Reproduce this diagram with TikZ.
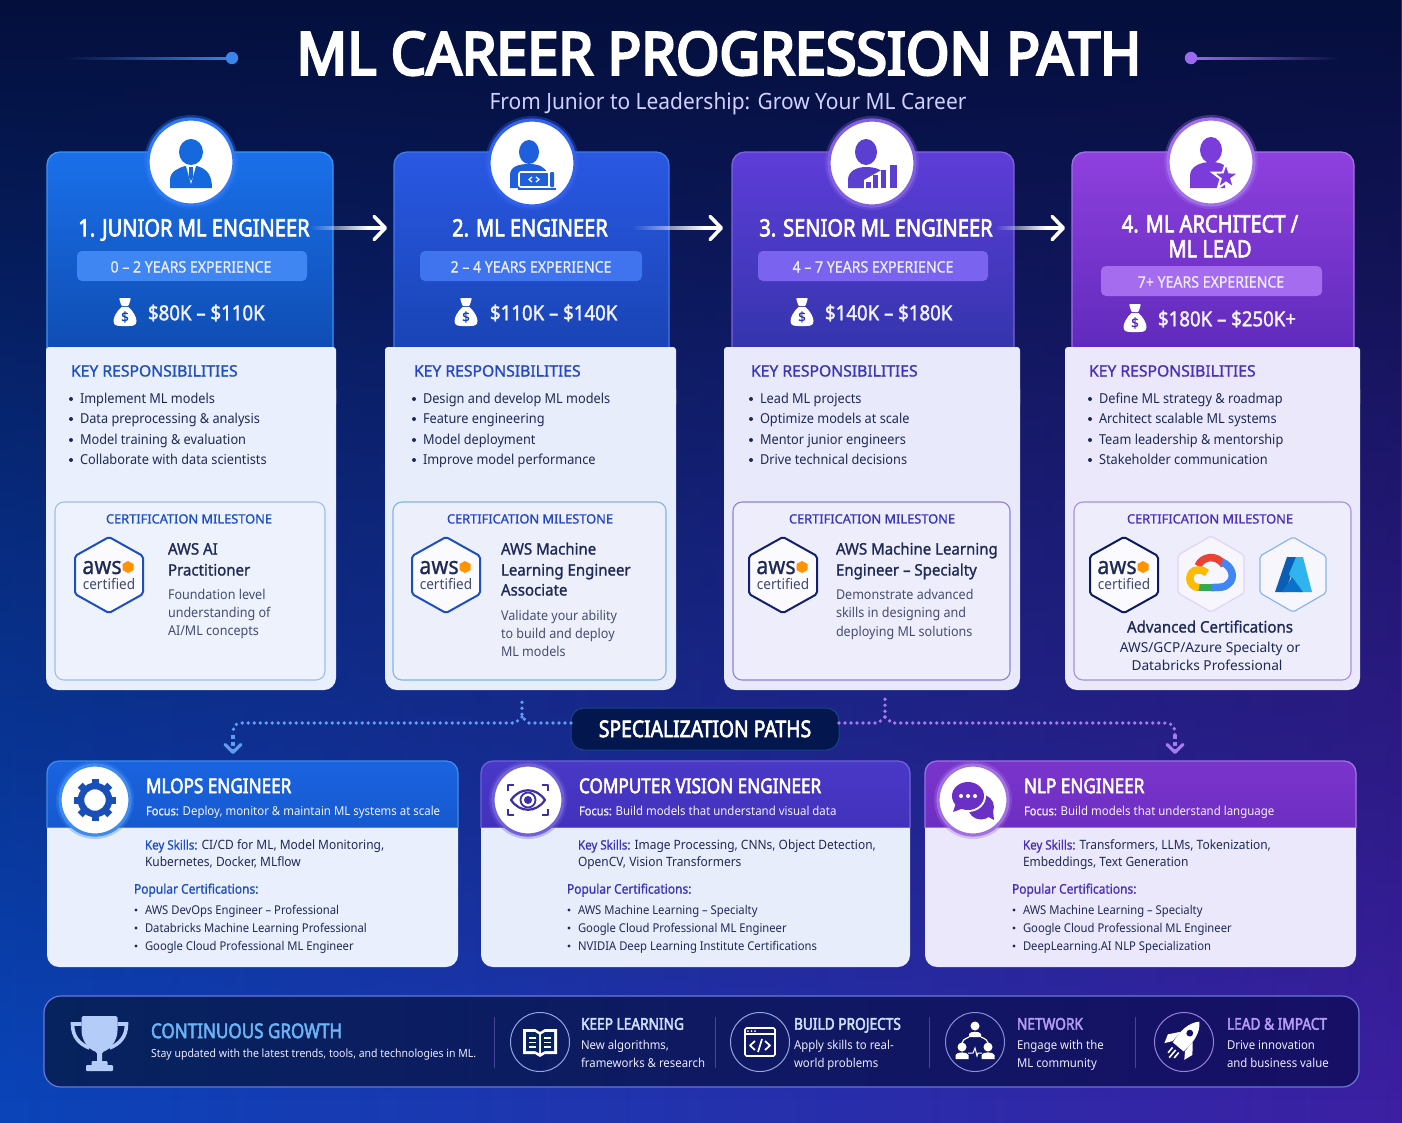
\documentclass[tikz,border=0pt]{standalone}
\usepackage{fontspec}
\usetikzlibrary{fadings,arrows.meta,calc}
\setmainfont{Noto Sans}
\newfontfamily\bodyf[FakeStretch=0.93]{Noto Sans}
\newfontfamily\bodyw{Noto Sans}
\newfontfamily\medf[FakeStretch=0.90,FakeBold=0.8]{Noto Sans}
\newfontfamily\medw[FakeBold=1.0]{Noto Sans}
\newfontfamily\cnf[FakeStretch=0.95,FakeBold=1.2]{Noto Sans}
\newfontfamily\semif[FakeStretch=0.90,FakeBold=1.7]{Noto Sans}
\newfontfamily\condf[FakeStretch=0.84,FakeBold=2.6]{Noto Sans}
\newfontfamily\titlef[FakeStretch=0.945,FakeBold=4.5]{Noto Sans}
\newfontfamily\subf[FakeStretch=0.93]{Noto Sans}
\definecolor{ink}{HTML}{1E2A55}
\definecolor{ink2}{HTML}{464E70}
\definecolor{navy}{HTML}{04164E}
\definecolor{bgbl}{HTML}{0A44B8}
\definecolor{bgbr}{HTML}{3C1FA2}
\definecolor{bgtop}{HTML}{040F3C}
\definecolor{kb1}{HTML}{1D4FC0}
\definecolor{kb2}{HTML}{2445C4}
\definecolor{kb3}{HTML}{3A35B8}
\definecolor{kb4}{HTML}{4A2FB8}
\definecolor{ic1}{HTML}{1669DC}
\definecolor{ic2}{HTML}{1F5FDC}
\definecolor{ic3}{HTML}{5A3FD0}
\definecolor{ic4}{HTML}{7A3DDC}
\definecolor{sk1}{HTML}{1A4FB8}
\definecolor{sk2}{HTML}{3A2FA8}
\definecolor{sk3}{HTML}{6A2FC4}
\definecolor{lnb}{HTML}{3A86E8}
\definecolor{lnp}{HTML}{9A6BF0}
\definecolor{lblp}{HTML}{B49BF5}
\definecolor{lblb}{HTML}{CFE0FF}
\definecolor{cgh}{HTML}{6AB4F5}
\tikzfading[name=fadeR, left color=transparent!0, right color=transparent!100]
\tikzfading[name=fadeL, left color=transparent!100, right color=transparent!0]
\tikzfading[name=fadeD, top color=transparent!0, bottom color=transparent!100, middle color=transparent!55]
\tikzset{
  x=1pt,y=-1pt,
  tx/.style 2 args={inner sep=0pt,outer sep=0pt,font=#1\fontsize{#2}{#2}\selectfont,text height={#2*0.8pt},text depth={#2*0.1pt}},
  cardtitle/.style={tx={\condf}{23.9},text=white,anchor=center},
  pilltext/.style={tx={\medf}{15.7},text=white!92!blue,anchor=center},
  salary/.style={tx={\semif}{20.7},text=white!95!blue,anchor=west},
  keyhead/.style={tx={\medw}{15.7},anchor=west},
  bullet/.style={tx={\bodyf}{13.7},text=ink,anchor=west},
  certhead/.style={tx={\medw}{12.8},anchor=center},
  certname/.style={tx={\cnf}{15.8},text=ink,anchor=west},
  certdesc/.style={tx={\bodyf}{13.5},text=ink2,anchor=west},
  certwide/.style={tx={\bodyw}{13.7},text=ink,anchor=center},
  spectitle/.style={tx={\condf}{20.4},text=white,anchor=west},
  specfocus/.style={tx={\medf}{12.3},text=white!95!blue,anchor=west},
  spectext/.style={tx={\bodyf}{12.85},text=ink,anchor=west},
  specpop/.style={tx={\medf}{13.3},anchor=west},
  speccert/.style={tx={\bodyf}{12.1},text=ink,anchor=west},
  barhead/.style={tx={\condf}{16.3},anchor=west},
  bartext/.style={tx={\bodyf}{12.25},text=white!92!blue,anchor=west},
  divider/.style={draw=white!45!blue!60!black,line width=1pt},
  flowshaft/.style={white,line width=3.2pt,-{Straight Barb[length=11pt,width=23pt,line width=3.6pt,round]}},
  dotline/.style={line width=3.7pt,line cap=round,dash pattern=on 0pt off 6pt},
  dashtail/.style={line width=3.2pt,dash pattern=on 4pt off 3pt,-{Straight Barb[length=8pt,width=16pt,line width=3.2pt,round]}},
}
% body panel (flat top, round bottom)
\newcommand\bodypanel[5]{%
 \fill[#5,rounded corners=12pt] (#1,#2+30) rectangle (#3,#4);
 \fill[#5,rounded corners=3pt] (#1,#2) rectangle (#3,#2+60);
}
\newcommand\moneybag[4]{% id x y colour
 \begin{scope}[shift={(#2,#3)}]
 \fill[white,rounded corners=1pt] (-6,-15) -- (6,-15) -- (3.5,-7) -- (-3.5,-7) -- cycle;
 \fill[white] (-3.5,-6) .. controls (-8,-2) and (-11.5,4) .. (-11.5,8) .. controls (-11.5,12.5) and (-8,13) .. (-4,13) -- (4,13) .. controls (8,13) and (11.5,12.5) .. (11.5,8) .. controls (11.5,4) and (8,-2) .. (3.5,-6) -- cycle;
 \node[tx={\medw}{13.5},text=#4] (#1) at (0,4) {\$};
 \end{scope}}
\newcommand\awsbadge[4]{% id x y colour
 \begin{scope}[shift={(#2,#3)}]
 \filldraw[draw=#4,line width=2pt,fill=white!70!blue!6!white,rounded corners=2pt,line join=round] (0,-38) -- (34,-19) -- (34,19) -- (0,38) -- (-34,19) -- (-34,-19) -- cycle;
 \node[font=\medf\fontsize{24}{24}\selectfont,inner sep=0pt,text height=14pt,text depth=0pt,text=ink,anchor=base] (#1a) at (-7,-1) {aws};
 \fill[orange!85!yellow] (19,-14) -- (24.5,-11) -- (24.5,-5) -- (19,-2) -- (13.5,-5) -- (13.5,-11) -- cycle;
 \node[font=\bodyf\fontsize{14.6}{14.6}\selectfont,inner sep=0pt,text height=10pt,text depth=0pt,text=ink!85!white,anchor=base] (#1c) at (0,14) {certified};
 \end{scope}}
\newcommand\iconring[5]{% x y r ring colour halo
 \fill[#4,opacity=.35] (#1,#2) circle[radius=#3+4];
 \filldraw[draw=#4,line width=3.2pt,fill=white] (#1,#2) circle[radius=#3];
}
\begin{document}
\begin{tikzpicture}
\useasboundingbox (0,0) rectangle (1402,1122);
% ---------- background
\shade[left color=bgbl,right color=bgbr] (-2,-2) rectangle (1404,1124);
\fill[bgtop,path fading=fadeD] (-2,-2) rectangle (1404,1100);
% ---------- title
\node[tx={\titlef}{59},text=white,anchor=center] (title) at (719,54) {ML CAREER PROGRESSION PATH};
\node[tx={\subf}{22.5},text=white!80!blue!90!white,anchor=center] (subtitle) at (728,102) {From Junior to Leadership: Grow Your ML Career};
\fill[lnb,path fading=fadeL] (65,56.5) rectangle (232,59.5);
\fill[lnb] (232,58) circle[radius=6.2];
\fill[lnp,path fading=fadeR] (1191,56.5) rectangle (1340,59.5);
\fill[lnp] (1191,58) circle[radius=6.2];
% ---------- card headers
\definecolor{h1a}{HTML}{1A70EA}\definecolor{h1b}{HTML}{0E49AD}\definecolor{h1e}{HTML}{3B96F0}
\definecolor{h2a}{HTML}{2A58E2}\definecolor{h2b}{HTML}{1742B0}\definecolor{h2e}{HTML}{3F7AE8}
\definecolor{h3a}{HTML}{5E3DD8}\definecolor{h3b}{HTML}{2F34A8}\definecolor{h3e}{HTML}{8060E0}
\definecolor{h4a}{HTML}{8F40DE}\definecolor{h4b}{HTML}{5A28B8}\definecolor{h4e}{HTML}{A070E8}
\filldraw[draw=h1e,line width=1.3pt,top color=h1a,bottom color=h1b,rounded corners=13pt] (47,152) rectangle (333,370);
\filldraw[draw=h2e,line width=1.3pt,top color=h2a,bottom color=h2b,rounded corners=13pt] (394,152) rectangle (669,370);
\filldraw[draw=h3e,line width=1.3pt,top color=h3a,bottom color=h3b,rounded corners=13pt] (732,152) rectangle (1014,370);
\filldraw[draw=h4e,line width=1.3pt,top color=h4a,bottom color=h4b,rounded corners=13pt] (1072,152) rectangle (1354,370);
% ---------- bodies
\definecolor{b1}{HTML}{E9EFFC}\definecolor{b2}{HTML}{E8EDFB}\definecolor{b3}{HTML}{E8E9FA}\definecolor{b4}{HTML}{EAE8FA}
\bodypanel{46}{347}{336}{690}{b1}
\bodypanel{385}{347}{676}{690}{b2}
\bodypanel{724}{347}{1020}{690}{b3}
\bodypanel{1065}{347}{1360}{690}{b4}
\definecolor{m1}{HTML}{9DBFEA}\definecolor{m2}{HTML}{7FB4E6}\definecolor{m3}{HTML}{9080D8}\definecolor{m4}{HTML}{A690DE}
\draw[draw=m1,line width=1.1pt,fill=white,fill opacity=.22,rounded corners=9pt] (55,502) rectangle (325,680);
\draw[draw=m2,line width=1.1pt,fill=white,fill opacity=.22,rounded corners=9pt] (393,502) rectangle (666,680);
\draw[draw=m3,line width=1.1pt,fill=white,fill opacity=.22,rounded corners=9pt] (733,502) rectangle (1010,680);
\draw[draw=m4,line width=1.1pt,fill=white,fill opacity=.22,rounded corners=9pt] (1074,502) rectangle (1351,680);
% ---------- pills
\definecolor{p1}{HTML}{3F86F2}\definecolor{p2}{HTML}{3F74EE}\definecolor{p3}{HTML}{7A63EE}\definecolor{p4}{HTML}{A66CF0}
\fill[p1,rounded corners=5pt] (77,251) rectangle (307,281);
\fill[p2,rounded corners=5pt] (420,251) rectangle (642,281);
\fill[p3,rounded corners=5pt] (758,251) rectangle (988,281);
\fill[p4,rounded corners=5pt] (1101,266) rectangle (1322,296);
% ---------- flow arrows
\coordinate (f1s) at (310,228);\coordinate (f1m) at (368,228);\coordinate (f1e) at (387,228);
\coordinate (f2s) at (632,228);\coordinate (f2m) at (704,228);\coordinate (f2e) at (723,228);
\coordinate (f3s) at (995,228);\coordinate (f3m) at (1046,228);\coordinate (f3e) at (1065,228);
\fill[white,path fading=fadeL] (310,226.4) rectangle (368,229.6);
\fill[white,path fading=fadeL] (632,226.4) rectangle (704,229.6);
\fill[white,path fading=fadeL] (995,226.4) rectangle (1046,229.6);
\draw[flowshaft] (f1m) -- (f1e);
\draw[flowshaft] (f2m) -- (f2e);
\draw[flowshaft] (f3m) -- (f3e);
% ---------- titles / pills / salaries
\node[cardtitle] (c1t) at (194,228) {1. JUNIOR ML ENGINEER};
\node[cardtitle] (c2t) at (530,228) {2. ML ENGINEER};
\node[cardtitle] (c3t) at (876,228) {3. SENIOR ML ENGINEER};
\node[cardtitle] (c4t) at (1210,224) {4. ML ARCHITECT /};
\node[cardtitle] (c4u) at (1210,249) {ML LEAD};
\node[pilltext] (c1p) at (191,267) {0 – 2 YEARS EXPERIENCE};
\node[pilltext] (c2p) at (531,267) {2 – 4 YEARS EXPERIENCE};
\node[pilltext] (c3p) at (873,267) {4 – 7 YEARS EXPERIENCE};
\node[pilltext] (c4p) at (1211,282) {7+ YEARS EXPERIENCE};
\moneybag{c1b}{125}{313}{h1b}
\moneybag{c2b}{466}{313}{h2b}
\moneybag{c3b}{802}{313}{h3b}
\moneybag{c4b}{1135}{319}{h4b}
\node[salary] (c1s) at (148,313) {\$80K – \$110K};
\node[salary] (c2s) at (490,313) {\$110K – \$140K};
\node[salary] (c3s) at (825,313) {\$140K – \$180K};
\node[salary] (c4s) at (1158,319) {\$180K – \$250K+};
% ---------- circle icons
\iconring{191}{162}{43}{h1e!80!blue}{}
\iconring{532}{163}{43}{h2e!80!blue}{}
\iconring{872}{163}{43}{h3e}{}
\iconring{1211}{162}{43}{h4e}{}
\begin{scope}[shift={(191,162)},ic1]
 \fill (0,-10) ellipse[x radius=12,y radius=13];
 \fill (-21,26) -- (-21,18) .. controls (-21,9) and (-12,6) .. (-6,4) -- (6,4) .. controls (12,6) and (21,9) .. (21,26) -- cycle;
 \fill[white] (-5,4) -- (0,22) -- (5,4) -- cycle;
 \fill (-1.8,5) -- (1.8,5) -- (2.2,15) -- (0,19) -- (-2.2,15) -- cycle;
\end{scope}
\begin{scope}[shift={(532,163)},ic2]
 \fill (-3,-11) ellipse[x radius=10,y radius=12];
 \fill (-22,25) -- (-22,12) .. controls (-22,3) and (-12,1) .. (-3,1) .. controls (7,1) and (14,4) .. (16,12) -- (16,25) -- cycle;
 \filldraw[draw=white,line width=1.6pt,rounded corners=2pt] (-13,9) rectangle (17,24);
 \fill[rounded corners=1pt] (18,9) rectangle (22,24);
 \fill (-14,24.5) rectangle (24,26.5);
 \draw[white,line width=1.2pt] (0,14) -- (-3,16.5) -- (0,19) (4,14) -- (7,16.5) -- (4,19);
\end{scope}
\begin{scope}[shift={(872,163)},ic3]
 \fill (-6,-11) ellipse[x radius=11,y radius=13];
 \fill (-24,25) -- (-24,17) .. controls (-24,8) and (-15,4) .. (-6,4) .. controls (2,4) and (8,6) .. (11,9) -- (11,25) -- cycle;
 \fill[white] (-8,17) -- (15,4) -- (16,26) -- (-8,26) -- cycle;
 \fill (-6,19) rectangle (-1,25);
 \fill (1,12) rectangle (6,25);
 \fill (9,7) rectangle (14,25);
 \fill (18,2) rectangle (25,25);
\end{scope}
\begin{scope}[shift={(1211,162)},ic4]
 \fill (0,-12) ellipse[x radius=11,y radius=13];
 \fill (-21,26) -- (-21,14) .. controls (-21,4) and (-10,0) .. (0,0) .. controls (8,0) and (12,2) .. (14,4) -- (14,26) -- cycle;
 \filldraw[draw=white,line width=2pt,line join=miter,shift={(15,15)}] (-90:14) -- (-54:5.6) -- (-18:14) -- (18:5.6) -- (54:14) -- (90:5.6) -- (126:14) -- (162:5.6) -- (198:14) -- (234:5.6) -- cycle;
\end{scope}
% ---------- responsibilities
\node[keyhead,text=kb1] (c1k) at (71,371) {KEY RESPONSIBILITIES};
\node[keyhead,text=kb2] (c2k) at (414,371) {KEY RESPONSIBILITIES};
\node[keyhead,text=kb3] (c3k) at (751,371) {KEY RESPONSIBILITIES};
\node[keyhead,text=kb4] (c4k) at (1089,371) {KEY RESPONSIBILITIES};
\foreach \bx/\yy in {71/399,71/419,71/440,71/460,414/399,414/419,414/440,414/460,751/399,751/419,751/440,751/460,1090/399,1090/419,1090/440,1090/460}{\fill[ink] (\bx,\yy) circle[radius=2];}
\node[bullet] (c1r1) at (80,399) {Implement ML models};
\node[bullet] (c1r2) at (80,419) {Data preprocessing \& analysis};
\node[bullet] (c1r3) at (80,440) {Model training \& evaluation};
\node[bullet] (c1r4) at (80,460) {Collaborate with data scientists};
\node[bullet] (c2r1) at (423,399) {Design and develop ML models};
\node[bullet] (c2r2) at (423,419) {Feature engineering};
\node[bullet] (c2r3) at (423,440) {Model deployment};
\node[bullet] (c2r4) at (423,460) {Improve model performance};
\node[bullet] (c3r1) at (760,399) {Lead ML projects};
\node[bullet] (c3r2) at (760,419) {Optimize models at scale};
\node[bullet] (c3r3) at (760,440) {Mentor junior engineers};
\node[bullet] (c3r4) at (760,460) {Drive technical decisions};
\node[bullet] (c4r1) at (1099,399) {Define ML strategy \& roadmap};
\node[bullet] (c4r2) at (1099,419) {Architect scalable ML systems};
\node[bullet] (c4r3) at (1099,440) {Team leadership \& mentorship};
\node[bullet] (c4r4) at (1099,460) {Stakeholder communication};
% ---------- certification
\node[certhead,text=kb1] (c1h) at (189,519) {CERTIFICATION MILESTONE};
\node[certhead,text=kb2] (c2h) at (530,519) {CERTIFICATION MILESTONE};
\node[certhead,text=kb3] (c3h) at (872,519) {CERTIFICATION MILESTONE};
\node[certhead,text=kb4] (c4h) at (1210,519) {CERTIFICATION MILESTONE};
\awsbadge{c1x}{109}{575}{kb1}
\awsbadge{c2x}{446}{575}{kb1}
\awsbadge{c3x}{783}{575}{navy!70!kb3}
\awsbadge{c4x}{1124}{575}{navy!85!kb3}
\node[certname] (c1n1) at (168,549) {AWS AI};
\node[certname] (c1n2) at (168,570) {Practitioner};
\node[certdesc] (c1d1) at (168,595) {Foundation level};
\node[certdesc] (c1d2) at (168,613) {understanding of};
\node[certdesc] (c1d3) at (168,631) {AI/ML concepts};
\node[certname] (c2n1) at (501,549) {AWS Machine};
\node[certname] (c2n2) at (501,570) {Learning Engineer};
\node[certname] (c2n3) at (501,590) {Associate};
\node[certdesc] (c2d1) at (501,616) {Validate your ability};
\node[certdesc] (c2d2) at (501,634) {to build and deploy};
\node[certdesc] (c2d3) at (501,652) {ML models};
\node[certname] (c3n1) at (836,549) {AWS Machine Learning};
\node[certname] (c3n2) at (836,570) {Engineer – Specialty};
\node[certdesc] (c3d1) at (836,595) {Demonstrate advanced};
\node[certdesc] (c3d2) at (836,613) {skills in designing and};
\node[certdesc] (c3d3) at (836,632) {deploying ML solutions};
% GCP + Azure
\filldraw[draw=lnp!30!white,line width=1.2pt,fill=white!60!b4,rounded corners=2pt] (1211,536) -- (1244,555) -- (1244,593) -- (1211,612) -- (1178,593) -- (1178,555) -- cycle;
\filldraw[draw=lnb!60!white,line width=1.2pt,fill=white!60!b4,rounded corners=2pt] (1293,537) -- (1326,556) -- (1326,593) -- (1293,612) -- (1260,593) -- (1260,556) -- cycle;
\definecolor{gred}{HTML}{EA4335}\definecolor{gblu}{HTML}{4285F4}\definecolor{ggrn}{HTML}{34A853}\definecolor{gyel}{HTML}{FBBC05}
\begin{scope}[line width=7.5pt]
 \draw[gred] (1198,566) .. controls (1202,556) and (1217,554) .. (1224,565);
 \draw[gblu] (1222,562) .. controls (1232,566) and (1236,578) .. (1228,584) .. controls (1225,587.5) and (1220,587.5) .. (1211,587.5);
 \draw[ggrn] (1212,587.5) -- (1197,587.5);
 \draw[gyel] (1199,587.5) .. controls (1187,587.5) and (1187,570) .. (1198,570) .. controls (1202,570) and (1205,571) .. (1207,573);
\end{scope}
\definecolor{azd}{HTML}{0A5FB5}\definecolor{azl}{HTML}{2FB4EE}\definecolor{azm}{HTML}{0B72CC}
\fill[azd] (1287,557) -- (1298,557) -- (1285,592) -- (1275,592) -- cycle;
\fill[azl] (1296,557) -- (1303,557) -- (1312,592) -- (1298,592) -- (1289,574) -- cycle;
\fill[azm] (1292,577) -- (1303,592) -- (1282,592) -- (1287,585) -- cycle;
\node[certname,anchor=center] (c4n) at (1210,627) {Advanced Certifications};
\node[certwide] (c4d1) at (1210,648) {AWS/GCP/Azure Specialty or};
\node[certwide] (c4d2) at (1207,666) {Databricks Professional};
% ---------- spec cards
\definecolor{s1a}{HTML}{1A63E0}\definecolor{s1b}{HTML}{1250BE}\definecolor{s1e}{HTML}{3F8AEE}
\definecolor{s2a}{HTML}{4A38C8}\definecolor{s2b}{HTML}{3A2CAE}\definecolor{s2e}{HTML}{7060D8}
\definecolor{s3a}{HTML}{7A34CC}\definecolor{s3b}{HTML}{6228B8}\definecolor{s3e}{HTML}{A070E0}
\fill[b1,rounded corners=12pt] (47,761) rectangle (458,967);
\fill[b2,rounded corners=12pt] (481,761) rectangle (910,967);
\fill[b4,rounded corners=12pt] (925,761) rectangle (1356,967);
\begin{scope}\clip (40,750) rectangle (470,827);
 \filldraw[draw=s1e,line width=1.3pt,top color=s1a,bottom color=s1b,rounded corners=12pt] (47,761) rectangle (458,890);\end{scope}
\begin{scope}\clip (475,750) rectangle (915,827);
 \filldraw[draw=s2e,line width=1.3pt,top color=s2a,bottom color=s2b,rounded corners=12pt] (481,761) rectangle (910,890);\end{scope}
\begin{scope}\clip (920,750) rectangle (1362,827);
 \filldraw[draw=s3e,line width=1.3pt,top color=s3a,bottom color=s3b,rounded corners=12pt] (925,761) rectangle (1356,890);\end{scope}
\draw[s1e,line width=1.2pt] (47,827.5) -- (458,827.5);
\draw[s2e,line width=1.2pt] (481,827.5) -- (910,827.5);
\draw[s3e,line width=1.2pt] (925,827.5) -- (1356,827.5);
\coordinate (s1top) at (233,754);
\coordinate (s3top) at (1175,754);
% spec path
\node[draw=lnb!40!navy,line width=1pt,fill=navy,rounded corners=13pt,minimum width=268pt,minimum height=42pt,tx={\condf}{23},text=white] (specpaths) at (705,729) {SPECIALIZATION PATHS};
\coordinate (jl) at (522,717);\coordinate (jlu) at (522,697);\coordinate (cl) at (245,723);\coordinate (cld) at (233,735);
\coordinate (jr) at (885,717);\coordinate (jru) at (885,697);\coordinate (cr) at (1160,723);\coordinate (crd) at (1175,735);
\definecolor{dl}{HTML}{5F9DF0}\definecolor{dr}{HTML}{A57BF0}
\draw[dl,dotline] (specpaths.west|-0,723) -- (529,723) -- (jl) -- (jlu);
\draw[dl,dotline] (jl) -- (515,723) -- (cl) .. controls (237,723) and (cld|-cl) .. (cld);
\draw[dr,dotline] (specpaths.east|-0,723) -- (878,723) -- (jr) -- (jru);
\draw[dr,dotline] (jr) -- (892,723) -- (cr) .. controls (1170,723) and (crd|-cr) .. (crd);
\draw[dl,dashtail] (cld) -- (s1top);
\draw[dr,dashtail] (crd) -- (s3top);
% spec icons
\iconring{95}{800}{35}{s1e}{}
\iconring{528}{800}{35}{s2e}{}
\iconring{973}{800}{35}{s3e}{}
\begin{scope}[shift={(95,800)},sk1]
 \draw[line width=6.5pt] (0,0) circle[radius=14];
 \foreach \a in {0,45,...,315}{\draw[line width=7pt] (\a:16) -- (\a:21);}
\end{scope}
\begin{scope}[shift={(528,800)},sk2,line width=2.2pt,line join=round]
 \draw[sk2] (-20,-9) -- (-20,-15) -- (-14,-15) (14,-15) -- (20,-15) -- (20,-9) (20,9) -- (20,15) -- (14,15) (-14,15) -- (-20,15) -- (-20,9);
 \draw[sk2] (-17,0) .. controls (-8,-13) and (8,-13) .. (17,0) .. controls (8,13) and (-8,13) .. (-17,0) -- cycle;
 \draw[sk2,line width=1.8pt] (0,0) circle[radius=7.5];
 \fill[sk2] (0,0) circle[radius=4];
\end{scope}
\begin{scope}[shift={(973,800)}]
 \fill[sk3] (8,7) ellipse[x radius=13,y radius=12.5];
 \fill[sk3] (12,15) -- (21,20) -- (20,10) -- cycle;
 \fill[white] (-5,-4) ellipse[x radius=18,y radius=16];
 \fill[sk3] (-5,-4) ellipse[x radius=16,y radius=14];
 \fill[sk3] (-17,3) -- (-20,12) -- (-9,8) -- cycle;
 \foreach \dd in {-12,-5,2}{\fill[white] (\dd,-4) circle[radius=2];}
\end{scope}
% spec text
\node[spectitle] (s1t) at (146,786) {MLOPS ENGINEER};
\node[specfocus] (s1f) at (146,811) {Focus: {\bodyf Deploy, monitor \& maintain ML systems at scale}};
\node[spectitle] (s2t) at (579,786) {COMPUTER VISION ENGINEER};
\node[specfocus] (s2f) at (579,811) {Focus: {\bodyf Build models that understand visual data}};
\node[spectitle] (s3t) at (1024,786) {NLP ENGINEER};
\node[specfocus] (s3f) at (1024,811) {Focus: {\bodyf Build models that understand language}};
\node[spectext] (s1k1) at (145,845) {\textcolor{kb1}{\medf Key Skills:} CI/CD for ML, Model Monitoring,};
\node[spectext] (s1k2) at (145,862) {Kubernetes, Docker, MLflow};
\node[specpop,text=kb1] (s1p) at (134,889) {Popular Certifications:};
\node[speccert] (s1c1) at (145,910) {AWS DevOps Engineer – Professional};
\node[speccert] (s1c2) at (145,928) {Databricks Machine Learning Professional};
\node[speccert] (s1c3) at (145,946) {Google Cloud Professional ML Engineer};
\node[spectext] (s2k1) at (578,845) {\textcolor{kb3}{\medf Key Skills:} Image Processing, CNNs, Object Detection,};
\node[spectext] (s2k2) at (578,862) {OpenCV, Vision Transformers};
\node[specpop,text=kb3] (s2p) at (567,889) {Popular Certifications:};
\node[speccert] (s2c1) at (578,910) {AWS Machine Learning – Specialty};
\node[speccert] (s2c2) at (578,928) {Google Cloud Professional ML Engineer};
\node[speccert] (s2c3) at (578,946) {NVIDIA Deep Learning Institute Certifications};
\node[spectext] (s3k1) at (1023,845) {\textcolor{kb4}{\medf Key Skills:} Transformers, LLMs, Tokenization,};
\node[spectext] (s3k2) at (1023,862) {Embeddings, Text Generation};
\node[specpop,text=kb4] (s3p) at (1012,889) {Popular Certifications:};
\node[speccert] (s3c1) at (1023,910) {AWS Machine Learning – Specialty};
\node[speccert] (s3c2) at (1023,928) {Google Cloud Professional ML Engineer};
\node[speccert] (s3c3) at (1023,946) {DeepLearning.AI NLP Specialization};
\foreach \bx/\yy in {136/910,136/928,136/946,569/910,569/928,569/946,1014/910,1014/928,1014/946}{\fill[ink] (\bx,\yy) circle[radius=1.7];}
% ---------- bottom bar
\definecolor{ba}{HTML}{06235E}\definecolor{bb}{HTML}{170F66}\definecolor{bbe}{HTML}{6A78D8}
\filldraw[draw=bbe,line width=1.2pt,left color=ba,right color=bb,rounded corners=17pt] (44,996) rectangle (1359,1087);
\definecolor{tro}{HTML}{B4CCF8}
\begin{scope}[shift={(99.5,1043)}]
 \draw[tro,line width=3.6pt] (-18,-19) -- (-27,-19) .. controls (-27,-6) and (-20,1) .. (-10,5);
 \draw[tro,line width=3.6pt] (18,-19) -- (27,-19) .. controls (27,-6) and (20,1) .. (10,5);
 \fill[tro,rounded corners=1.5pt] (-18,-27) -- (18,-27) -- (18,-14) .. controls (18,-2) and (10,7) .. (2.5,9) -- (2.5,20) -- (-2.5,20) -- (-2.5,9) .. controls (-10,7) and (-18,-2) .. (-18,-14) -- cycle;
 \fill[tro,rounded corners=1pt] (-8,18) rectangle (8,23);
 \fill[tro,rounded corners=1pt] (-13.5,22) rectangle (13.5,28);
\end{scope}
\node[tx={\condf}{20.3},text=cgh,anchor=west] (gh) at (151,1031) {CONTINUOUS GROWTH};
\node[tx={\bodyf}{11.3},text=white!92!blue,anchor=west] (gs) at (151,1054) {Stay updated with the latest trends, tools, and technologies in ML.};
\draw[divider] (494,1017) -- (494,1068);
\draw[divider] (715,1017) -- (715,1068);
\draw[divider] (929,1017) -- (929,1068);
\draw[divider] (1135,1017) -- (1135,1068);
\definecolor{r1}{HTML}{8FA6E0}\definecolor{r2}{HTML}{8A8CE0}\definecolor{r3}{HTML}{9580E0}
\draw[r1,line width=1pt] (540,1042) circle[radius=29.5];
\draw[r1,line width=1pt] (760,1042) circle[radius=29.5];
\draw[r2,line width=1pt] (975,1042) circle[radius=29.5];
\draw[r3,line width=1pt] (1184,1042) circle[radius=29.5];
\node[barhead,text=lblb] (b1h) at (581,1024) {KEEP LEARNING};
\node[bartext] (b1a) at (581,1045) {New algorithms,};
\node[bartext] (b1b) at (581,1063) {frameworks \& research};
\node[barhead,text=lblb] (b2h) at (794,1024) {BUILD PROJECTS};
\node[bartext] (b2a) at (794,1045) {Apply skills to real-};
\node[bartext] (b2b) at (794,1063) {world problems};
\node[barhead,text=lblp] (b3h) at (1017,1024) {NETWORK};
\node[bartext] (b3a) at (1017,1045) {Engage with the};
\node[bartext] (b3b) at (1017,1063) {ML community};
\node[barhead,text=lblp] (b4h) at (1227,1024) {LEAD \& IMPACT};
\node[bartext] (b4a) at (1227,1045) {Drive innovation};
\node[bartext] (b4b) at (1227,1063) {and business value};
% book
\begin{scope}[shift={(540,1043)},white,line join=round]
 \fill[white] (-17,-14) -- (-5,-14) -- (0,-11) -- (5,-14) -- (17,-14) -- (17,11) -- (5,11) -- (0,14) -- (-5,11) -- (-17,11) -- cycle;
 \fill[ba] (-14,-11) -- (-5,-11) -- (-1,-8.5) -- (-1,10) -- (-5,8) -- (-14,8) -- cycle;
 \fill[ba] (14,-11) -- (5,-11) -- (1,-8.5) -- (1,10) -- (5,8) -- (14,8) -- cycle;
 \draw[line width=1.5pt] (-11,-5) -- (-4,-5) (-11,-.5) -- (-4,-.5) (-11,4) -- (-4,4) (11,-5) -- (4,-5) (11,-.5) -- (4,-.5) (11,4) -- (4,4);
\end{scope}
% code window
\begin{scope}[shift={(760,1042)},white,line width=1.7pt,line join=round]
 \draw[rounded corners=1.5pt] (-15,-14) rectangle (15,14);
 \draw (-15,-8) -- (15,-8);
 \fill (-12,-11) circle[radius=1] (-8.5,-11) circle[radius=1] (-5,-11) circle[radius=1];
 \draw (-5,-1) -- (-10,3.5) -- (-5,8) (5,-1) -- (10,3.5) -- (5,8) (2,-3) -- (-2,10);
\end{scope}
% network
\begin{scope}[shift={(975,1042)},white]
 \fill (0,-16) circle[radius=4.5];
 \fill (-6,-5) -- (-6,-8) .. controls (-5,-11) and (5,-11) .. (6,-8) -- (6,-5) -- cycle;
 \foreach \px in {-13,13}{
  \fill (\px,5) circle[radius=4.5];
  \fill (\px-6.5,17) -- (\px-6.5,13) .. controls (\px-5,9.5) and (\px+5,9.5) .. (\px+6.5,13) -- (\px+6.5,17) -- cycle;}
 \draw[line width=1.2pt] (-6,-5) .. controls (-11,-3) and (-13,-1) .. (-13,1) (6,-5) .. controls (11,-3) and (13,-1) .. (13,1);
 \draw[line width=1pt] (-7,11) -- (-2,11) -- (0,6) -- (2,14) -- (3,11) -- (7,11);
\end{scope}
% rocket
\begin{scope}[shift={(1184,1040)},rotate=-40,white]
 \fill (0,-24) .. controls (8,-16) and (9,-4) .. (7,9) -- (-7,9) .. controls (-9,-4) and (-8,-16) .. (0,-24) -- cycle;
 \fill (-8,-4) -- (-16,6) -- (-13,15) -- (-8,8) -- cycle;
 \fill (8,-4) -- (16,6) -- (13,15) -- (8,8) -- cycle;
 \fill[bb] (0,-9) circle[radius=3.4];
 \draw[line width=1.6pt] (-4,13) -- (-4,20) (0,13) -- (0,23) (4,13) -- (4,20);
\end{scope}
\end{tikzpicture}
\end{document}
